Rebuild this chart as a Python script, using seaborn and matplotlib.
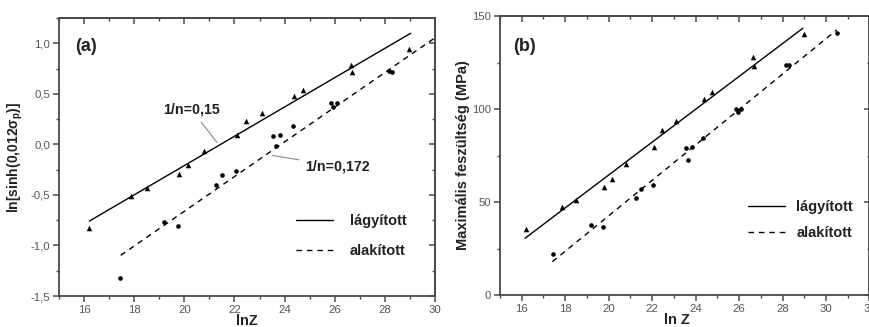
import matplotlib
matplotlib.use("Agg")
import matplotlib.pyplot as plt
import seaborn as sns
from matplotlib.ticker import MultipleLocator, FuncFormatter

# ---------------- data ----------------
lnZ_lag = [16.2, 17.87, 18.5, 19.8, 20.15, 20.8, 22.1, 22.46, 23.1, 24.38, 24.75, 26.65, 26.7, 28.97]
lnsinh_lag = [-0.83, -0.515, -0.43, -0.29, -0.20, -0.07, 0.094, 0.236, 0.315, 0.483, 0.539, 0.786, 0.72, 0.944]
sigma_lag = [35.7, 47.3, 51.1, 58.1, 62.2, 70.3, 79.7, 88.5, 93.7, 105.2, 109.1, 128.0, 123.1, 140.3]

lnZ_ala = [17.43, 19.2, 19.75, 21.25, 21.5, 22.05, 23.55, 23.83, 23.64, 24.34, 25.85, 25.95, 26.1, 28.17, 28.28, 30.5]
lnsinh_ala = [-1.325, -0.769, -0.805, -0.406, -0.30, -0.265, 0.081, 0.094, -0.018, 0.177, 0.407, 0.374, 0.414, 0.73, 0.72, 0.96]
sigma_ala = [22.2, 37.5, 36.4, 52.3, 57.2, 59.1, 78.9, 79.6, 72.6, 84.2, 100.0, 98.6, 100.0, 123.5, 123.5, 140.7]

# fitted lines (end points)
fitA_lag_x, fitA_lag_y = [16.21, 29.03], [-0.759, 1.099]
fitA_ala_x, fitA_ala_y = [17.46, 30.5], [-1.098, 1.14]
fitB_lag_x, fitB_lag_y = [16.15, 28.93], [30.5, 143.4]
fitB_ala_x, fitB_ala_y = [17.41, 30.49], [17.9, 142.5]

series_labels = ["lágyított", "alakított"]
xticks_a = [16, 18, 20, 22, 24, 26, 28, 30]
xticks_b = [16, 18, 20, 22, 24, 26, 28, 30, 32]
yticks_a = [-1.5, -1.0, -0.5, 0.0, 0.5, 1.0]
yticks_b = [0, 50, 100, 150]

# ---------------- style ----------------
sns.set_theme(style="ticks")
plt.rcParams["font.family"] = ["Liberation Sans", "DejaVu Sans"]
plt.rcParams["mathtext.fontset"] = "custom"
plt.rcParams["mathtext.rm"] = "Liberation Sans:bold"
plt.rcParams["mathtext.it"] = "Liberation Sans:bold"
plt.rcParams["mathtext.bf"] = "Liberation Sans:bold"

SPINE = "#4a4a4a"
TXT = "#555555"
LAB = "#222222"

fig = plt.figure(figsize=(8.7, 3.27), dpi=100)
axA = fig.add_axes([59 / 870, 1 - 296 / 327, 376 / 870, 278 / 327])
axB = fig.add_axes([500 / 870, 1 - 295 / 327, 369.5 / 870, 279 / 327])


def comma(v, pos):
    return f"{v:.1f}".replace(".", ",")


def style_axes(ax, xmin, xmax, ymin, ymax, xmaj, xmin_loc, ymaj, ymin_loc):
    ax.set_xlim(xmin, xmax)
    ax.set_ylim(ymin, ymax)
    for sp in ax.spines.values():
        sp.set_visible(True)
        sp.set_color(SPINE)
        sp.set_linewidth(1.3)
    ax.xaxis.set_minor_locator(MultipleLocator(xmin_loc))
    ax.yaxis.set_minor_locator(MultipleLocator(ymin_loc))
    ax.tick_params(which="major", direction="out", length=4.5, width=1.1, color=SPINE,
                   labelsize=8.2, labelcolor=TXT, pad=2)
    ax.tick_params(which="minor", direction="out", length=2.5, width=1.0, color=SPINE)
    # top / right ticks pointing inward
    top = ax.secondary_xaxis("top")
    top.set_xticks(xmaj)
    top.xaxis.set_minor_locator(MultipleLocator(xmin_loc))
    top.tick_params(which="major", direction="in", length=4, width=1.1, color=SPINE, labeltop=False)
    top.tick_params(which="minor", direction="in", length=2.5, width=1.0, color=SPINE)
    top.spines["top"].set_color(SPINE)
    top.spines["top"].set_linewidth(1.3)
    right = ax.secondary_yaxis("right")
    right.set_yticks(ymaj)
    right.yaxis.set_minor_locator(MultipleLocator(ymin_loc))
    right.tick_params(which="major", direction="in", length=4, width=1.1, color=SPINE, labelright=False)
    right.tick_params(which="minor", direction="in", length=2.5, width=1.0, color=SPINE)
    right.spines["right"].set_color(SPINE)
    right.spines["right"].set_linewidth(1.3)


def draw(ax, xl, yl, xa, ya, fl_x, fl_y, fa_x, fa_y):
    sns.scatterplot(x=xl, y=yl, ax=ax, marker="^", s=16, color="black",
                    linewidth=0, legend=False, zorder=3)
    sns.scatterplot(x=xa, y=ya, ax=ax, marker="o", s=11, color="black",
                    linewidth=0, legend=False, zorder=3)
    sns.lineplot(x=fl_x, y=fl_y, ax=ax, color="black", linewidth=1.0,
                 label=series_labels[0])
    sns.lineplot(x=fa_x, y=fa_y, ax=ax, color="black", linewidth=1.0,
                 linestyle=(0, (4, 3.5)), label=series_labels[1])


def bold_legend(leg):
    for t in leg.get_texts():
        t.set_fontweight("bold")
        t.set_color(LAB)


# ---- panel (a)
draw(axA, lnZ_lag, lnsinh_lag, lnZ_ala, lnsinh_ala, fitA_lag_x, fitA_lag_y, fitA_ala_x, fitA_ala_y)
style_axes(axA, 15, 30, -1.5, 1.25, xticks_a, 1, yticks_a, 0.25)
axA.set_xticks(xticks_a)
axA.set_yticks(yticks_a)
axA.yaxis.set_major_formatter(FuncFormatter(comma))
axA.set_xlabel("lnZ", fontsize=10.5, fontweight="bold", labelpad=-1.0, color=LAB)
axA.set_ylabel(r"ln[sinh(0,012σ$_{p}$)]", fontsize=10, fontweight="bold", labelpad=4, color=LAB)
axA.text(0.042, 0.897, "(a)", transform=axA.transAxes, fontsize=13, fontweight="bold",
         ha="left", va="center", color=LAB)
axA.annotate("1/n=0,15", xy=(21.3, 0.02), xytext=(20.29, 0.342), fontsize=10.3,
             fontweight="bold", ha="center", va="center", color=LAB,
             arrowprops=dict(arrowstyle="-", color="#888888", lw=0.8, shrinkA=2, shrinkB=0))
axA.annotate("1/n=0,172", xy=(23.52, -0.11), xytext=(26.11, -0.215), fontsize=10.3,
             fontweight="bold", ha="center", va="center", color=LAB,
             arrowprops=dict(arrowstyle="-", color="#888888", lw=0.8, shrinkA=2, shrinkB=0))
legA = axA.legend(loc="center left", bbox_to_anchor=(0.63, 0.216), frameon=False,
                  fontsize=10.5, handlelength=2.55, handletextpad=1.15, labelspacing=1.05,
                  borderpad=0, borderaxespad=0)
bold_legend(legA)

# ---- panel (b)
draw(axB, lnZ_lag, sigma_lag, lnZ_ala, sigma_ala, fitB_lag_x, fitB_lag_y, fitB_ala_x, fitB_ala_y)
style_axes(axB, 15, 32, 0, 150, xticks_b, 1, yticks_b, 25)
axB.set_xticks(xticks_b)
axB.set_yticks(yticks_b)
axB.set_xlabel("ln Z", fontsize=10.5, fontweight="bold", labelpad=-1.0, color=LAB)
axB.xaxis.label.set_x(0.478)
axB.set_ylabel("Maximális feszültség (MPa)", fontsize=10.5, fontweight="bold", labelpad=1.5, color=LAB)
axB.text(0.035, 0.89, "(b)", transform=axB.transAxes, fontsize=13, fontweight="bold",
         ha="left", va="center", color=LAB)
legB = axB.legend(loc="center left", bbox_to_anchor=(0.67, 0.269), frameon=False,
                  fontsize=10.5, handlelength=2.55, handletextpad=0.8, labelspacing=0.8,
                  borderpad=0, borderaxespad=0)
bold_legend(legB)

fig.savefig("out.png", dpi=100)
